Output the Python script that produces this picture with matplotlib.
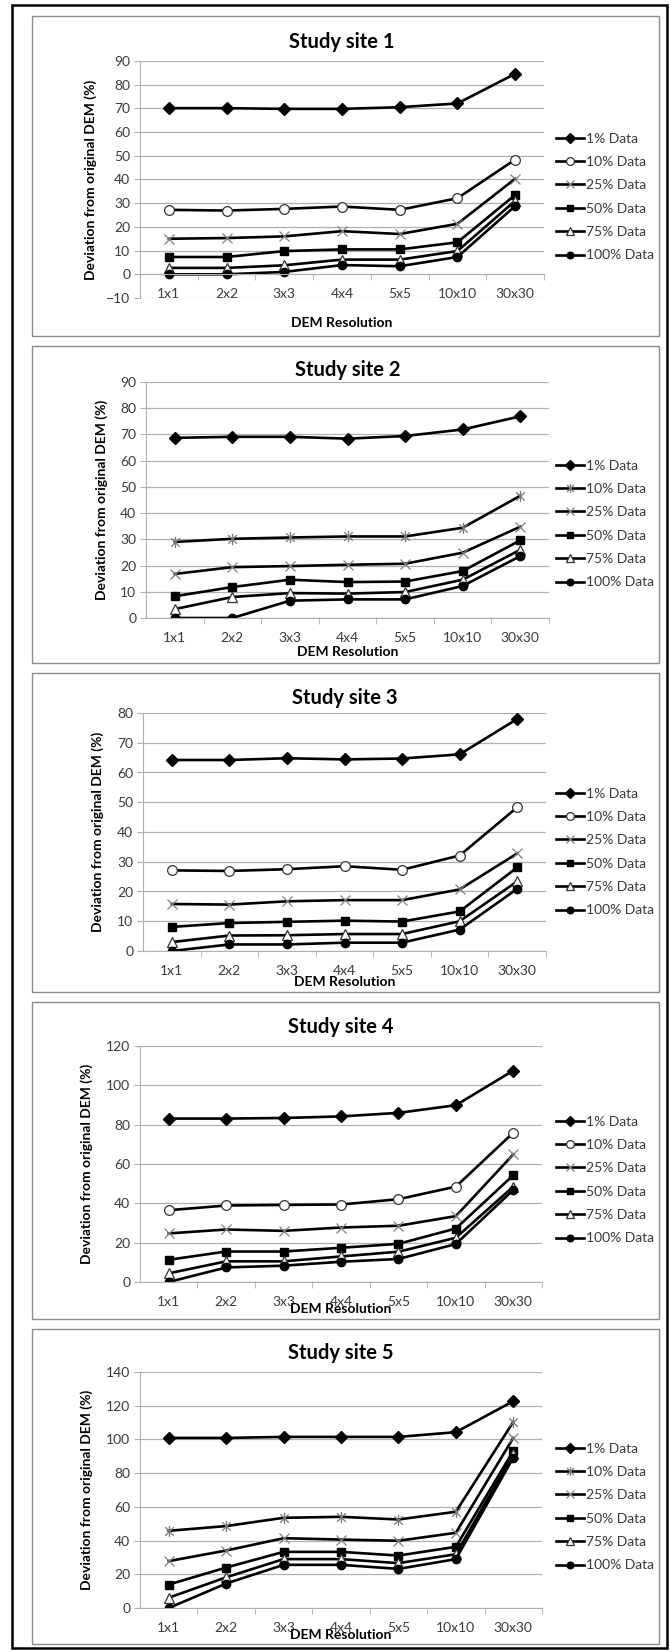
import matplotlib
matplotlib.use("Agg")
import matplotlib.pyplot as plt
from matplotlib.patches import Rectangle
from matplotlib.path import Path

plt.rcParams['font.family'] = ['Lato', 'DejaVu Sans']

W, H = 670, 1651

resolutions = ["1x1", "2x2", "3x3", "4x4", "5x5", "10x10", "30x30"]
series_names = ["1% Data", "10% Data", "25% Data", "50% Data", "75% Data", "100% Data"]
titles = ["Study site 1", "Study site 2", "Study site 3", "Study site 4", "Study site 5"]

# rows: 1%, 10%, 25%, 50%, 75%, 100%
site1 = [
    [70.1, 70.1, 69.8, 69.8, 70.5, 72.1, 84.6],
    [27.2, 26.9, 27.6, 28.6, 27.2, 32.1, 48.4],
    [15.0, 15.3, 16.0, 18.2, 17.0, 21.3, 40.3],
    [7.3, 7.3, 9.8, 10.5, 10.5, 13.5, 33.5],
    [2.7, 2.7, 3.8, 6.2, 6.2, 9.8, 31.0],
    [0.0, 0.0, 1.0, 3.9, 3.4, 7.3, 28.8],
]
site2 = [
    [68.7, 69.1, 69.1, 68.4, 69.4, 71.9, 76.9],
    [29.0, 30.2, 30.7, 31.1, 31.1, 34.4, 46.6],
    [16.8, 19.4, 19.8, 20.3, 20.7, 24.9, 34.8],
    [8.3, 11.8, 14.6, 13.7, 13.9, 17.9, 29.6],
    [3.4, 8.0, 9.5, 9.3, 9.9, 14.6, 26.0],
    [0.0, 0.0, 6.6, 7.1, 7.1, 12.2, 23.6],
]
site3 = [
    [64.2, 64.2, 64.8, 64.4, 64.7, 66.1, 78.0],
    [27.1, 26.9, 27.5, 28.5, 27.3, 32.1, 48.3],
    [15.8, 15.6, 16.7, 17.1, 17.1, 20.7, 32.8],
    [8.1, 9.4, 9.8, 10.2, 9.9, 13.3, 28.1],
    [3.0, 5.2, 5.3, 5.7, 5.7, 10.0, 23.4],
    [0.0, 2.2, 2.2, 2.8, 2.8, 7.2, 20.9],
]
site4 = [
    [83.1, 83.1, 83.4, 84.2, 86.0, 89.9, 107.5],
    [36.5, 38.9, 39.2, 39.4, 42.1, 48.5, 75.9],
    [24.7, 26.7, 26.0, 27.7, 28.6, 33.5, 64.9],
    [11.3, 15.5, 15.5, 17.4, 19.4, 27.2, 54.3],
    [4.4, 10.5, 10.5, 13.0, 15.4, 22.5, 48.5],
    [0.0, 7.4, 8.3, 10.3, 11.7, 19.3, 46.8],
]
site5 = [
    [100.9, 100.9, 101.5, 101.5, 101.5, 104.3, 122.7],
    [45.8, 48.6, 53.5, 54.1, 52.5, 57.1, 110.4],
    [27.8, 34.1, 41.4, 40.6, 39.9, 44.6, 100.9],
    [13.9, 24.0, 33.3, 33.3, 31.1, 36.3, 93.2],
    [6.1, 18.2, 29.0, 29.0, 26.6, 31.9, 91.2],
    [0.0, 14.5, 25.6, 25.6, 23.2, 29.0, 89.2],
]
sites = [site1, site2, site3, site4, site5]

y_min = [-10, 0, 0, 0, 0]
y_max = [90, 90, 80, 120, 140]
y_step = [10, 10, 10, 20, 20]
star_10pct = [False, True, False, False, True]

# excel style "star" marker: x with a vertical bar
star = Path([(-1, -1), (1, 1), (-1, 1), (1, -1), (0, -1.3), (0, 1.3)],
            [Path.MOVETO, Path.LINETO, Path.MOVETO, Path.LINETO, Path.MOVETO, Path.LINETO])

# pixel layout: frame (top, bottom), axes (left, right, top, bottom), ylabel x, xlabel y, title y, legend center y
frames = [(16, 336), (346, 663), (673, 992), (1002, 1319), (1329, 1644)]
axes_box = [(140, 544, 61, 298), (146, 549, 382, 618), (143, 546, 713, 951),
            (140, 542, 1046, 1282), (140, 542, 1372, 1608)]
ylabel_x = [91, 102, 98, 87, 87]
xlabel_y = [323, 652, 982, 1309, 1635]
title_y = [42, 370, 698, 1027, 1353]
legend_y = [197, 524, 852, 1180, 1507]

fig = plt.figure(figsize=(W / 100, H / 100), dpi=100)

def fx(px):
    return px / W

def fy(py):
    return 1 - py / H

fig.add_artist(Rectangle((fx(12), fy(1648)), fx(667) - fx(12), fy(5) - fy(1648),
                         transform=fig.transFigure, fill=False, ec='black', lw=1.8))

grid_c = '#b0b0b0'
text_c = '#3a3a3a'

for i in range(5):
    top, bot = frames[i]
    fig.add_artist(Rectangle((fx(32), fy(bot)), fx(659) - fx(32), fy(top) - fy(bot),
                             transform=fig.transFigure, fill=False, ec='#8c8c8c', lw=1.0))
    l, r, t, b = axes_box[i]
    ax = fig.add_axes([fx(l), fy(b), fx(r) - fx(l), fy(t) - fy(b)])
    x = list(range(len(resolutions)))
    data = sites[i]

    ax.plot(x, data[0], color='black', lw=1.9, marker='D', ms=6, label=series_names[0])
    if star_10pct[i]:
        ax.plot(x, data[1], color='black', lw=1.9, marker=star, ms=8, mec='#777777',
                mew=0.9, label=series_names[1])
    else:
        ax.plot(x, data[1], color='black', lw=1.9, marker='o', ms=7, mfc='white',
                mec='#333333', mew=0.9, label=series_names[1])
    ax.plot(x, data[2], color='black', lw=1.9, marker='x', ms=7, mec='#808080',
            mew=0.9, label=series_names[2])
    ax.plot(x, data[3], color='black', lw=1.9, marker='s', ms=6, label=series_names[3])
    ax.plot(x, data[4], color='black', lw=1.9, marker='^', ms=7, mfc='white',
            mec='#333333', mew=0.9, label=series_names[4])
    ax.plot(x, data[5], color='black', lw=1.9, marker='o', ms=6, label=series_names[5])

    ax.set_xlim(-0.5, 6.5)
    ax.set_ylim(y_min[i], y_max[i])
    ax.set_yticks(range(y_min[i], y_max[i] + 1, y_step[i]))
    ax.set_xticks(x)
    ax.set_xticklabels(resolutions)
    ax.set_xticks([k + 0.5 for k in x], minor=True)
    ax.grid(axis='y', color=grid_c, lw=0.9)
    ax.set_axisbelow(True)
    for s in ['top', 'right']:
        ax.spines[s].set_visible(False)
    ax.spines['left'].set_color(grid_c)
    ax.spines['bottom'].set_color(grid_c)
    ax.spines['bottom'].set_position(('data', 0))
    ax.tick_params(axis='x', which='major', length=0, pad=10, labelsize=10, labelcolor=text_c)
    ax.tick_params(axis='x', which='minor', length=4, color=grid_c, direction='out')
    ax.tick_params(axis='y', length=4, color=grid_c, labelsize=10, labelcolor=text_c, pad=3)

    fig.text(fx((l + r) / 2), fy(title_y[i]), titles[i], ha='center', va='center',
             fontsize=14.5, fontweight='bold')
    fig.text(fx((l + r) / 2), fy(xlabel_y[i]), "DEM Resolution", ha='center', va='center',
             fontsize=10, fontweight='bold')
    fig.text(fx(ylabel_x[i]), fy((t + b) / 2), "Deviation from original DEM (%)",
             ha='center', va='center', rotation=90, fontsize=10, fontweight='bold')

    ax.legend(loc='center left', bbox_to_anchor=(fx(556), fy(legend_y[i])),
              bbox_transform=fig.transFigure, frameon=False, fontsize=10,
              handlelength=2.0, handletextpad=0.15, labelspacing=0.82,
              markerscale=0.8, borderpad=0, borderaxespad=0, labelcolor=text_c)

fig.savefig("out.png", dpi=100)
